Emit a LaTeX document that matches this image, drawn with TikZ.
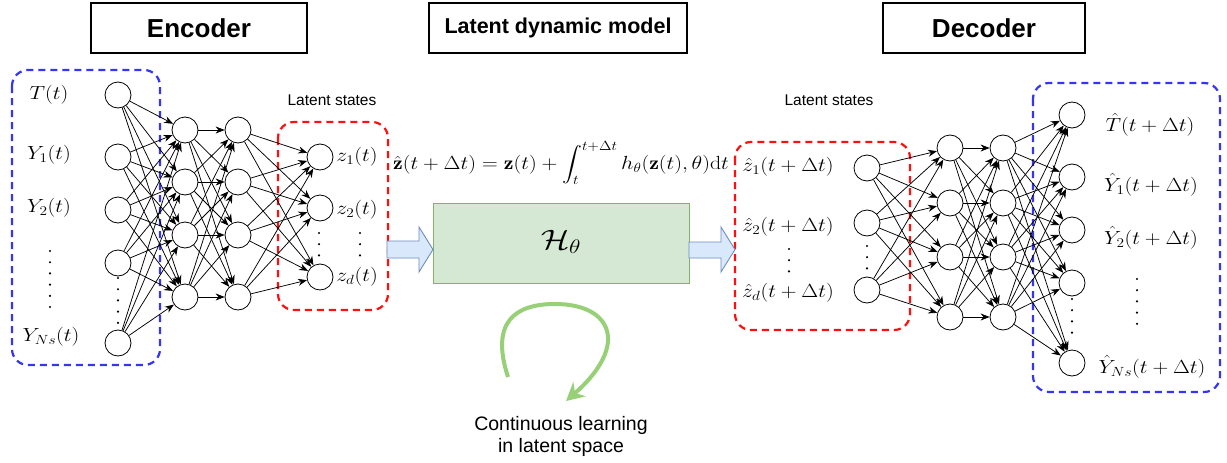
\RequirePackage{fix-cm}
\documentclass[tikz,border=0pt]{standalone}
\usepackage{amsmath}
\usepackage{graphicx}
\usepackage{fontspec}
\newfontfamily\lsans{Liberation Sans}
\usetikzlibrary{arrows.meta}
\definecolor{eblue}{HTML}{3535F5}
\definecolor{ered}{HTML}{FF1010}
\definecolor{gfill}{HTML}{D5E8D4}
\definecolor{gstroke}{HTML}{82B366}
\definecolor{afill}{HTML}{DAE8FC}
\definecolor{astroke}{HTML}{6C8EBF}
\definecolor{cgreen}{HTML}{97D077}
\newcommand{\ml}[1]{\scalebox{1.15}[1]{$#1$}}
\begin{document}
\begin{tikzpicture}[x=1pt,y=-1pt,
  neuron/.style={circle,draw,line width=0.8pt,minimum size=26pt,inner sep=0pt},
  conn/.style={line width=0.75pt,-{Stealth[length=9pt,width=7pt]}},
  lab/.style={inner sep=0pt,font=\fontsize{19}{22}\selectfont},
  titlebox/.style={draw,line width=1.2pt,inner sep=0pt,minimum height=50pt,font=\lsans\bfseries\fontsize{26}{30}\selectfont},
  sanslab/.style={inner sep=0pt,font=\lsans\fontsize{15.5}{18}\selectfont},
  bluebox/.style={draw=eblue,line width=2.2pt,dash pattern=on 7pt off 5pt,rounded corners=16pt},
  redbox/.style={draw=ered,line width=2.2pt,dash pattern=on 7pt off 5pt,rounded corners=16pt},
  blockarrow/.style={draw=astroke,fill=afill,line width=0.9pt,line join=miter},
  vdotsline/.style={line width=2.4pt,line cap=round,dash pattern=on 0pt off 11.2pt}
]
\useasboundingbox (0,0) rectangle (1227,463);

% titles
\node[titlebox,minimum width=216pt] (enc) at (199,28) {Encoder};
\node[titlebox,minimum width=258pt,font=\lsans\bfseries\fontsize{21.5}{26}\selectfont] (ldm) at (558,28) {Latent dynamic model};
\node[titlebox,minimum width=202pt] (dec) at (984,28) {Decoder};

% dashed groups
\draw[bluebox] (12,70) rectangle (160,365);
\draw[redbox] (278,122) rectangle (388,310);
\draw[redbox] (735,142) rectangle (910,330);
\draw[bluebox] (1033,83) rectangle (1220,392);

\node[sanslab] (ls1) at (332,100) {Latent states};
\node[sanslab] (ls2) at (829,100) {Latent states};

% encoder neurons
\foreach \k/\y in {1/95,2/157,3/210,4/263,5/343} \node[neuron] (i\k) at (118,\y) {};
\foreach \k/\y in {1/130,2/182,3/235,4/297} {
  \node[neuron] (a\k) at (185,\y) {};
  \node[neuron] (b\k) at (238,\y) {};
}
\foreach \k/\y in {1/157,2/208,3/277} \node[neuron] (z\k) at (320,\y) {};

% encoder labels
\node[lab] (lT) at (49,95) {\ml{T(t)}};
\node[lab] (lY1) at (49,155) {\ml{Y_1(t)}};
\node[lab] (lY2) at (49,208) {\ml{Y_2(t)}};
\node[lab] (lYN) at (51,337) {\ml{Y_{Ns}(t)}};
\node[lab] (lz1) at (357,157) {\ml{z_1(t)}};
\node[lab] (lz2) at (357,210) {\ml{z_2(t)}};
\node[lab] (lzd) at (357,277) {\ml{z_d(t)}};

\draw[vdotsline] (50,251) -- (50,308);
\draw[vdotsline] (118,278) -- (118,323);
\draw[vdotsline] (319,233) -- (319,257);
\draw[vdotsline] (360,233) -- (360,257);

% encoder connections
\foreach \p in {1,...,5} \foreach \q in {1,...,4} \draw[conn] (i\p) -- (a\q);
\foreach \p in {1,...,4} \foreach \q in {1,...,4} \draw[conn] (a\p) -- (b\q);
\foreach \p in {1,...,4} \foreach \q in {1,...,3} \draw[conn] (b\p) -- (z\q);

% formula
\node[lab] (eq) at (561,163) {\ml{\displaystyle \hat{\mathbf{z}}(t+\Delta t)=\mathbf{z}(t)+\int_t^{t+\Delta t} h_\theta(\mathbf{z}(t),\theta)\mathrm{d}t}};

% latent model
\node[draw=gstroke,fill=gfill,line width=1pt,minimum width=256pt,minimum height=80pt,inner sep=0pt] (H) at (561,243) {};
\node[inner sep=0pt,font=\fontsize{28}{32}\selectfont] (Hl) at (561,242) {\scalebox{1.2}[1]{$\mathcal{H}_\theta$}};

\draw[blockarrow] (387,241) -- (419,241) -- (419,227) -- (433,249.5) -- (419,272) -- (419,258) -- (387,258) -- cycle;
\draw[blockarrow] (689,242) -- (721,242) -- (721,227) -- (735,249.5) -- (721,272) -- (721,258) -- (689,258) -- cycle;

% continuous learning arrow
\draw[line width=4pt,cgreen,-{Stealth[length=18pt,width=19pt,inset=6pt]}] (508,377) .. controls (490,322) and (515,304) .. (555,304) .. controls (612,304) and (630,345) .. (566,401);
\node[inner sep=0pt,align=center,font=\lsans\fontsize{19.5}{22}\selectfont] (cl) at (561,436) {Continuous learning\\in latent space};

% decoder neurons
\foreach \k/\y in {1/168,2/223,3/290} \node[neuron] (w\k) at (867,\y) {};
\foreach \k/\y in {1/148,2/203,3/257,4/317} {
  \node[neuron] (c\k) at (950,\y) {};
  \node[neuron] (d\k) at (1003,\y) {};
}
\foreach \k/\y in {1/115,2/177,3/230,4/283,5/363} \node[neuron] (o\k) at (1072,\y) {};

% decoder labels
\node[lab] (lw1) at (788,167) {\ml{\hat{z}_1(t+\Delta t)}};
\node[lab] (lw2) at (788,227) {\ml{\hat{z}_2(t+\Delta t)}};
\node[lab] (lwd) at (788,293) {\ml{\hat{z}_d(t+\Delta t)}};
\node[lab] (lTh) at (1150,125) {\ml{\hat{T}(t+\Delta t)}};
\node[lab] (lY1h) at (1151,185) {\ml{\hat{Y}_1(t+\Delta t)}};
\node[lab] (lY2h) at (1151,238) {\ml{\hat{Y}_2(t+\Delta t)}};
\node[lab] (lYNh) at (1152,367) {\ml{\hat{Y}_{Ns}(t+\Delta t)}};

\draw[vdotsline] (789,249) -- (789,273);
\draw[vdotsline] (867,246) -- (867,270);
\draw[vdotsline] (1072,299) -- (1072,343);
\draw[vdotsline] (1137,279) -- (1137,334);

% decoder connections
\foreach \p in {1,...,3} \foreach \q in {1,...,4} \draw[conn] (w\p) -- (c\q);
\foreach \p in {1,...,4} \foreach \q in {1,...,4} \draw[conn] (c\p) -- (d\q);
\foreach \p in {1,...,4} \foreach \q in {1,...,5} \draw[conn] (d\p) -- (o\q);
\end{tikzpicture}
\end{document}
